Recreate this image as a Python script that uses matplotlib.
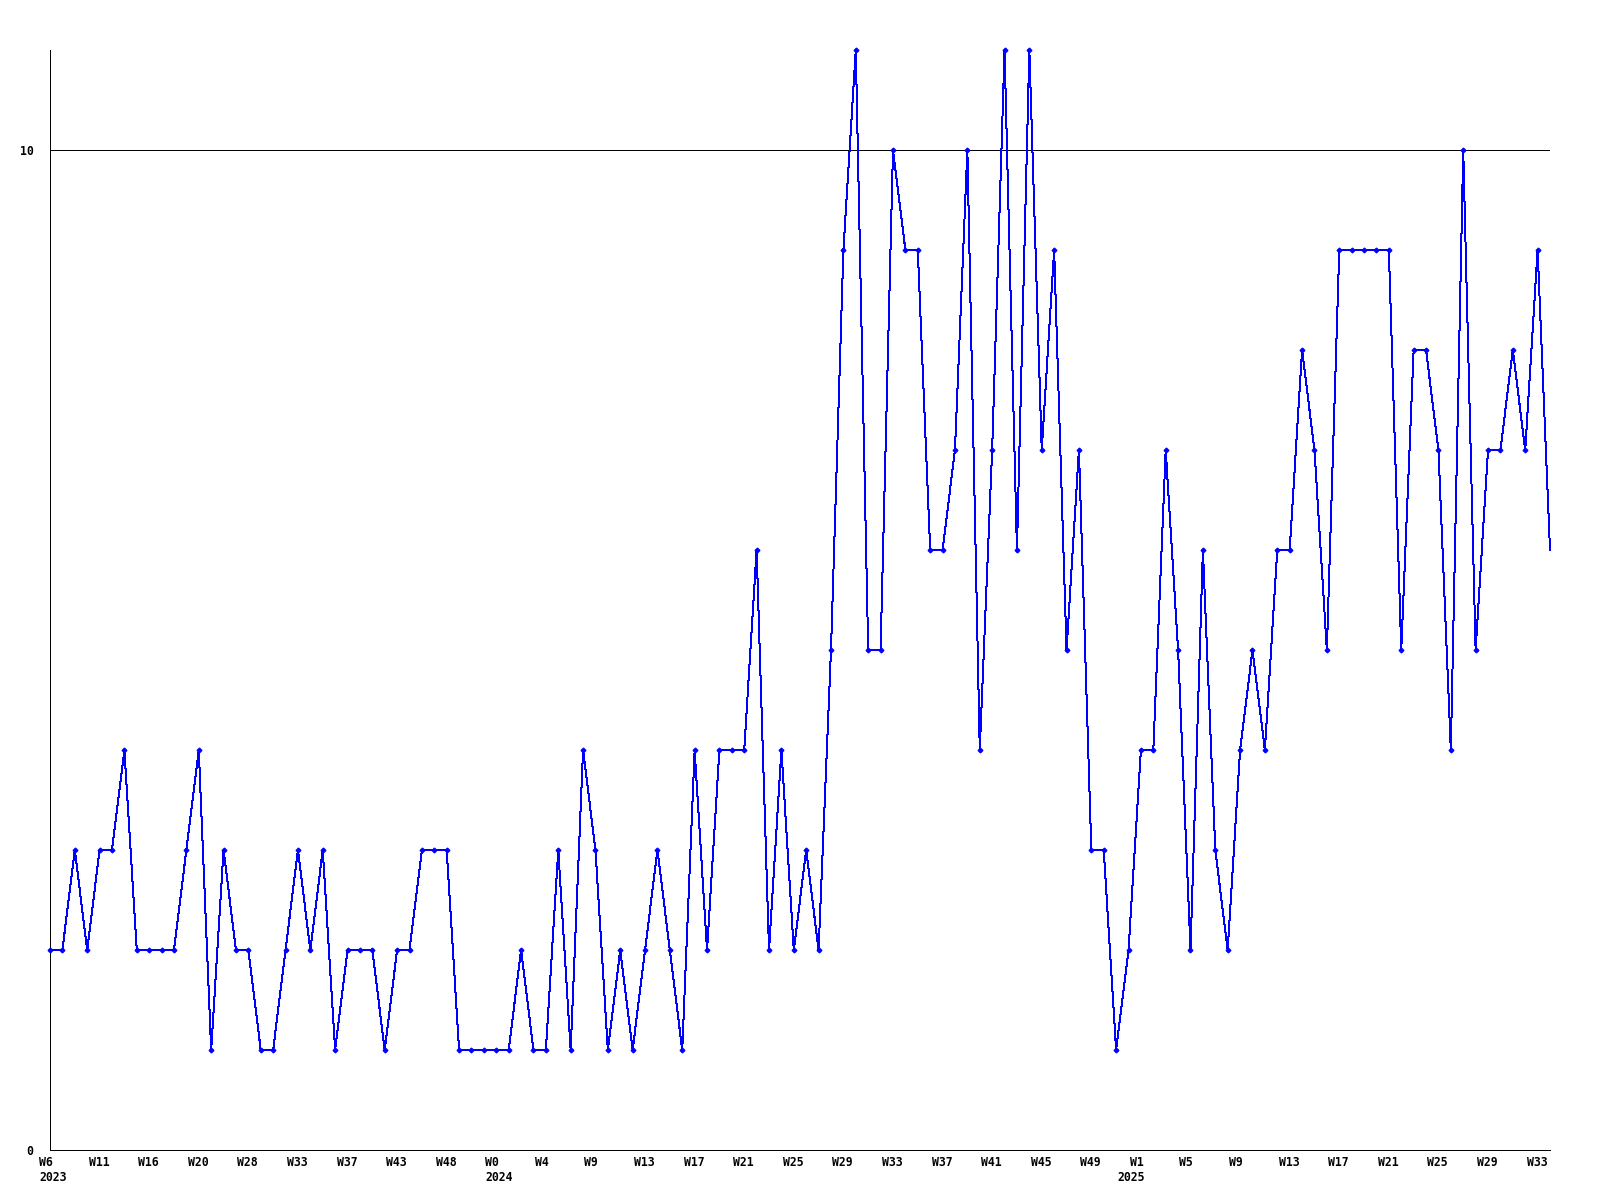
import numpy as np
import matplotlib.pyplot as plt
from matplotlib.transforms import ScaledTranslation

# weekly counts, one per point
counts = [2, 2, 3, 2, 3, 3, 4, 2, 2, 2, 2, 3, 4, 1, 3, 2, 2, 1, 1, 2,
          3, 2, 3, 1, 2, 2, 2, 1, 2, 2, 3, 3, 3, 1, 1, 1, 1, 1, 2, 1,
          1, 3, 1, 4, 3, 1, 2, 1, 2, 3, 2, 1, 4, 2, 4, 4, 4, 6, 2, 4,
          2, 3, 2, 5, 9, 11, 5, 5, 10, 9, 9, 6, 6, 7, 10, 4, 7, 11, 6, 11,
          7, 9, 5, 7, 3, 3, 1, 2, 4, 4, 7, 5, 2, 6, 3, 2, 4, 5, 4, 6,
          6, 8, 7, 5, 9, 9, 9, 9, 9, 5, 8, 8, 7, 4, 10, 5, 7, 7, 8, 7,
          9, 6]

# every 4th point gets a label
week_labels = ["W6", "W11", "W16", "W20", "W28", "W33", "W37", "W43", "W48",
               "W0", "W4", "W9", "W13", "W17", "W21", "W25", "W29", "W33",
               "W37", "W41", "W45", "W49", "W1", "W5", "W9", "W13", "W17",
               "W21", "W25", "W29", "W33"]
# label index -> year, and its pixel shift to the left
year_labels = {0: "2023", 9: "2024", 22: "2025"}
year_shift = {0: 11, 9: 11, 22: 24}

y_ticks = [0, 10]
y_max = 11

fig = plt.figure(figsize=(16, 12), dpi=100)
ax = fig.add_axes([50/1600, 50/1200, 1500/1600, 1100/1200])

x = np.arange(len(counts))
ax.plot(x, counts, color='#0000ff', lw=0.72, marker='D', ms=2.4,
        markevery=list(range(len(counts) - 1)), antialiased=False,
        clip_on=False, zorder=3)
ax.axhline(10, color='black', lw=0.72, antialiased=False, zorder=2)

ax.set_xlim(0, len(counts) - 1)
ax.set_ylim(0, y_max)

for s in ['top', 'right']:
    ax.spines[s].set_visible(False)
for s in ['left', 'bottom']:
    ax.spines[s].set_linewidth(0.72)
    ax.spines[s].set_antialiased(False)

font = dict(family='DejaVu Sans Mono', weight='bold', size=8.3)

ax.set_yticks(y_ticks)
ax.set_yticklabels([str(v) for v in y_ticks], **font)

tick_pos = x[::4][:len(week_labels)]
ax.set_xticks(tick_pos)
ax.set_xticklabels(week_labels, ha='left', **font)

ax.tick_params(axis='y', length=0, pad=12)
ax.tick_params(axis='x', length=0, pad=4.2)

shift = ScaledTranslation(-11/100, 0, fig.dpi_scale_trans)
for lab in ax.get_xticklabels():
    lab.set_transform(lab.get_transform() + shift)

for i, yr in year_labels.items():
    ax.annotate(yr, xy=(tick_pos[i], 0), xycoords=('data', 'axes fraction'),
                xytext=(-year_shift[i], -21), textcoords='offset pixels',
                ha='left', va='top', annotation_clip=False, **font)

fig.savefig('out.png', dpi=100)
